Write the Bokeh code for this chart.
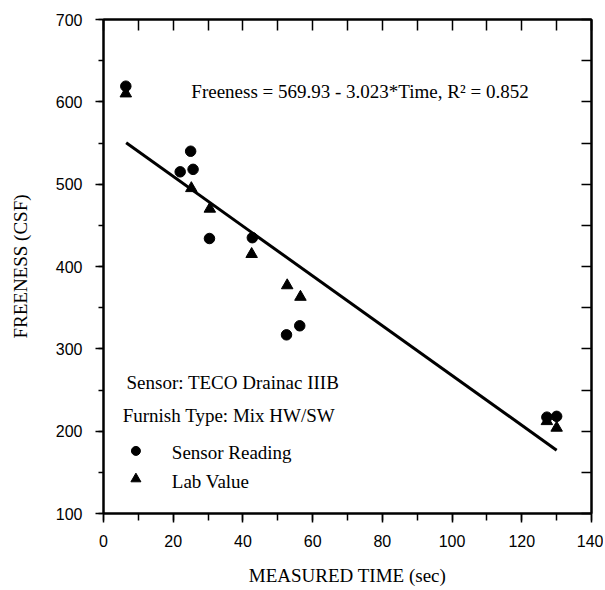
from bokeh.plotting import figure
from bokeh.models import (LinearAxis, SingleIntervalTicker, CustomJSTickFormatter, Range1d, Label)
from bokeh.embed import file_html
from bokeh.resources import INLINE

# ---- data ----
sensor_time = [6.4, 25.0, 22.0, 25.7, 30.4, 42.7, 52.5, 56.3, 127.2, 130.0]
sensor_freeness = [619, 540, 515, 518, 434, 435, 317, 328, 217, 218]
lab_time = [6.4, 25.2, 30.5, 42.5, 52.7, 56.5, 127.2, 130.0]
lab_freeness = [610, 495, 470, 415, 377, 363, 212, 204]
fit_time = [6.5, 130.0]
fit_freeness = [550.3, 176.9]

x_ticks = [0, 20, 40, 60, 80, 100, 120, 140]
y_ticks = [100, 200, 300, 400, 500, 600, 700]

equation = "Freeness = 569.93 - 3.023*Time, R\u00b2 = 0.852"
note_sensor = "Sensor: TECO Drainac IIIB"
note_furnish = "Furnish Type: Mix HW/SW"
legend_sensor = "Sensor Reading"
legend_lab = "Lab Value"

SERIF = "Liberation Serif"
SANS = "Liberation Sans"

p = figure(width=603, height=588, output_backend="svg", toolbar_location=None,
           x_range=Range1d(0, 140), y_range=Range1d(100, 700),
           min_border_left=103, min_border_right=12, min_border_top=19, min_border_bottom=74,
           x_axis_label="MEASURED TIME (sec)", y_axis_label="FREENESS (CSF)")
p.grid.visible = False
p.outline_line_color = "black"
p.outline_line_width = 2
p.background_fill_color = "white"
p.border_fill_color = "white"

xa = p.xaxis[0]
xa.ticker = SingleIntervalTicker(interval=20, num_minor_ticks=2)
xa.major_tick_out = 9
xa.major_tick_in = 0
xa.minor_tick_out = 7
xa.minor_tick_in = 0
ya = p.yaxis[0]
ya.ticker = SingleIntervalTicker(interval=100, num_minor_ticks=2)
ya.major_tick_out = 8
ya.major_tick_in = 0
ya.minor_tick_out = 5
ya.minor_tick_in = 0
for ax in (xa, ya):
    ax.axis_line_width = 2
    ax.major_tick_line_width = 1.5
    ax.minor_tick_line_width = 1.5
    ax.major_tick_line_color = "black"
    ax.minor_tick_line_color = "black"
    ax.axis_line_color = "black"
    ax.major_label_text_font = SANS
    ax.major_label_text_font_size = "16px"
    ax.major_label_text_color = "black"
    ax.axis_label_text_font = SERIF
    ax.axis_label_text_font_size = "19px"
    ax.axis_label_text_font_style = "normal"
    ax.axis_label_text_color = "black"
xa.major_label_standoff = 12
xa.axis_label_standoff = 15
ya.major_label_standoff = 13
ya.axis_label_standoff = 22

blank = CustomJSTickFormatter(code="return ''")
top = LinearAxis(ticker=SingleIntervalTicker(interval=10, num_minor_ticks=0), formatter=blank,
                 major_tick_in=11, major_tick_out=0, minor_tick_line_color=None,
                 major_label_text_font_size="1px", major_label_standoff=0,
                 axis_line_width=2, major_tick_line_width=1.5)
right = LinearAxis(ticker=SingleIntervalTicker(interval=50, num_minor_ticks=0), formatter=blank,
                   major_tick_in=10, major_tick_out=0, minor_tick_line_color=None,
                   major_label_text_font_size="1px", major_label_standoff=0,
                   axis_line_width=2, major_tick_line_width=1.5)
p.add_layout(top, "above")
p.add_layout(right, "right")

# regression line
p.line(fit_time, fit_freeness, line_color="black", line_width=3)

# data points
p.scatter(sensor_time, sensor_freeness, marker="circle", size=10.5,
          fill_color="black", line_color="black")
p.scatter(lab_time, lab_freeness, marker="triangle", size=11.5,
          fill_color="black", line_color="black")

# legend markers (in data coordinates)
p.scatter([9.3], [176], marker="circle", size=9, fill_color="black", line_color="black")
p.scatter([9.3], [142], marker="triangle", size=10, fill_color="black", line_color="black")

def add_text(x, y, t):
    p.add_layout(Label(x=x, y=y, text=t, text_font=SERIF, text_font_size="19px",
                       text_color="black", text_align="left", text_baseline="middle"))

add_text(25.2, 613, equation)
add_text(6.6, 259, note_sensor)
add_text(5.5, 219, note_furnish)
add_text(19.6, 173.5, legend_sensor)
add_text(19.6, 138.6, legend_lab)

open("out.html", "w").write(file_html(p, INLINE))
